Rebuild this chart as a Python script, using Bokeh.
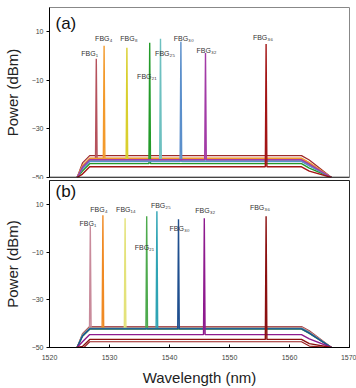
from bokeh.plotting import figure
from bokeh.layouts import column
from bokeh.models import FixedTicker, Span
from bokeh.core.properties import value
from bokeh.embed import file_html
from bokeh.resources import INLINE

# ---------------- data ----------------
X_TICKS = [1520, 1530, 1540, 1550, 1560, 1570]
Y_TICKS = [-50, -30, -10, 10]

# panel (a)
WL_A = [1527.8, 1529.1, 1532.9, 1536.7, 1538.5, 1541.9, 1546.0, 1556.1]
PEAK_A = [-1.1, 4.2, 3.4, 5.5, 7.1, 5.9, 1.3, 5.0]
BASE_A = [-42.6, -42.2, -42.9, -44.3, -43.0, -43.4, -42.7, -45.6]
COLORS_A = ["#B5525C", "#F39A2B", "#D9CF2E", "#249B2A", "#6DC0C0", "#5B8FCB", "#A23AA6", "#A31515"]
EXTRA_A_BASE = [-41.0, -43.2, -42.0]
EXTRA_A_COLORS = ["#9E2A2A", "#22308F", "#E0A060"]
LAB_A = ["FBG₁", "FBG₄", "FBG₈", "FBG₂₁", "FBG₂₅", "FBG₃₀", "FBG₃₂", "FBG₃₆"]
LAB_A_X = [1525.3, 1527.6, 1531.8, 1534.6, 1537.6, 1540.7, 1544.5, 1553.9]
LAB_A_Y = [0.9, 7.1, 7.1, -8.6, 0.9, 7.1, 2.2, 7.5]

# panel (b)
WL_B = [1526.8, 1528.9, 1532.6, 1536.2, 1537.9, 1541.5, 1545.8, 1556.1]
PEAK_B = [0.8, 5.4, 4.2, 5.0, 7.1, 3.8, 4.2, 5.0]
BASE_B = [-41.6, -42.0, -42.2, -42.3, -42.0, -42.2, -44.6, -46.6]
COLORS_B = ["#C98B9B", "#F08A24", "#E4E27A", "#4DAA4D", "#2FA4B5", "#1F4F8F", "#8E1A8E", "#8B1010"]
EXTRA_B_BASE = [-41.9, -41.2, -47.6]
EXTRA_B_COLORS = ["#0E5E5E", "#A04040", "#9A2020"]
LAB_B = ["FBG₁", "FBG₄", "FBG₁₄", "FBG₂₁", "FBG₂₅", "FBG₃₀", "FBG₃₂", "FBG₃₆"]
LAB_B_X = [1525.0, 1526.8, 1531.1, 1534.2, 1536.9, 1540.0, 1544.3, 1553.4]
LAB_B_Y = [2.1, 7.9, 7.9, -7.9, 9.6, 0.0, 7.5, 8.75]

# broadband source edges (wavelength nm) and their drop below the flat level (dB)
RISE_WL = [1524.6, 1525.5, 1526.7]
RISE_DROP = [None, 3.0, 0.0]
FALL_WL = [1562.0, 1563.3, 1567.0]
FALL_DROP = [0.0, 1.8, None]
PEAK_HALF = 0.13

FONT = "Liberation Sans"


def trace(base, wl=None, top=None):
    xs = []
    ys = []
    for w, d in zip(RISE_WL, RISE_DROP):
        xs.append(w)
        ys.append(-50.0 if d is None else base - d)
    if wl is not None:
        xs += [wl - PEAK_HALF, wl, wl + PEAK_HALF]
        ys += [base, top, base]
    for w, d in zip(FALL_WL, FALL_DROP):
        xs.append(w)
        ys.append(-50.0 if d is None else base - d)
    return xs, ys


def make_panel(tag, wls, peaks, bases, colors, ebases, ecolors, labs, lx, ly,
               height, top, bottom, left, right, outline, show_x):
    p = figure(width=356, height=height, x_range=(1520, 1570), y_range=(-50, 20),
               output_backend="svg", toolbar_location=None,
               min_border_top=top, min_border_bottom=bottom,
               min_border_left=left, min_border_right=right)
    p.grid.visible = False
    p.outline_line_color = outline
    p.outline_line_width = 1
    p.background_fill_color = "white"

    for b, c in zip(ebases, ecolors):
        xs, ys = trace(b)
        p.line(xs, ys, line_color=c, line_width=1.2)
    for w, pk, b, c in zip(wls, peaks, bases, colors):
        xs, ys = trace(b, w, pk)
        p.line(xs, ys, line_color=c, line_width=1.4)

    p.text(x=lx, y=ly, text=labs, text_font=value(FONT), text_font_size="7px",
           text_color="#333333", text_baseline="middle", text_align="left")
    p.text(x=[1521.0], y=[13.5 if tag == "(a)" else 15.4], text=[tag],
           text_font=value(FONT), text_font_size="17px",
           text_color="#111111", text_baseline="middle", text_align="left")

    ya = p.yaxis[0]
    ya.ticker = FixedTicker(ticks=Y_TICKS)
    ya.axis_label = "Power (dBm)"
    ya.axis_label_text_font = FONT
    ya.axis_label_text_font_style = "normal"
    ya.axis_label_text_font_size = "15px"
    ya.axis_label_text_color = "#222222"
    ya.axis_label_standoff = 8
    ya.major_label_text_font = FONT
    ya.major_label_text_font_size = "7px"
    ya.major_label_text_color = "#444444"
    ya.major_label_standoff = 3
    ya.major_tick_out = 3
    ya.major_tick_in = 0
    ya.minor_tick_out = 0
    ya.minor_tick_in = 0
    ya.axis_line_color = "black"

    xa = p.xaxis[0]
    if show_x:
        xa.ticker = FixedTicker(ticks=X_TICKS)
        xa.major_tick_in = 3
        xa.major_tick_out = 0
        xa.minor_tick_in = 0
        xa.minor_tick_out = 0
        xa.axis_line_color = "black"
        xa.axis_label = "Wavelength (nm)"
        xa.axis_label_text_font = FONT
        xa.axis_label_text_font_style = "normal"
        xa.axis_label_text_font_size = "15px"
        xa.axis_label_text_color = "#222222"
        xa.axis_label_standoff = 6
        xa.major_label_text_font = FONT
        xa.major_label_text_font_size = "7px"
        xa.major_label_text_color = "#444444"
        xa.major_label_standoff = 7
    else:
        xa.visible = False
        p.add_layout(Span(location=-50, dimension="width", line_color="black", line_width=1.5))
    return p


p1 = make_panel("(a)", WL_A, PEAK_A, BASE_A, COLORS_A, EXTRA_A_BASE, EXTRA_A_COLORS,
                LAB_A, LAB_A_X, LAB_A_Y, 179, 7, 2, 47, 6, "#888888", False)
p2 = make_panel("(b)", WL_B, PEAK_B, BASE_B, COLORS_B, EXTRA_B_BASE, EXTRA_B_COLORS,
                LAB_B, LAB_B_X, LAB_B_Y, 209, 1, 40, 46, 7, "#222222", True)

layout = column(p1, p2, spacing=0)
open("out.html", "w").write(file_html(layout, INLINE))
